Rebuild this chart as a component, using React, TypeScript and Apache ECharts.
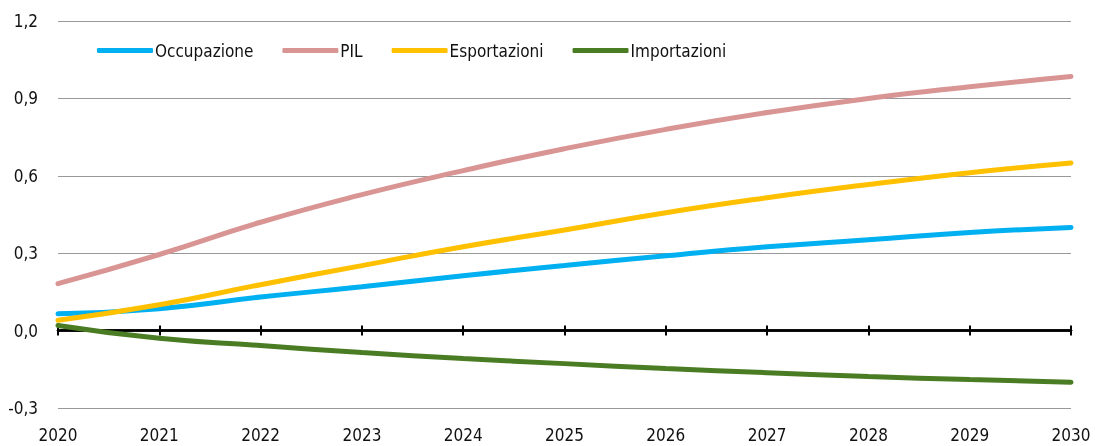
import React, { useEffect, useRef } from "react";
import * as echarts from "echarts";

const years = ["2020", "2021", "2022", "2023", "2024", "2025", "2026", "2027", "2028", "2029", "2030"];
const occupazione = [0.065, 0.085, 0.13, 0.17, 0.213, 0.252, 0.29, 0.325, 0.352, 0.38, 0.4];
const pil = [0.182, 0.295, 0.42, 0.527, 0.62, 0.705, 0.78, 0.845, 0.9, 0.945, 0.985];
const esportazioni = [0.04, 0.1, 0.178, 0.252, 0.325, 0.39, 0.457, 0.515, 0.566, 0.612, 0.65];
const importazioni = [0.02, -0.03, -0.058, -0.085, -0.108, -0.128, -0.147, -0.163, -0.178, -0.19, -0.2];

const FONT = "'Liberation Sans Narrow', 'DejaVu Sans Condensed', sans-serif";

export default function App() {
  const ref = useRef<HTMLDivElement>(null);
  useEffect(() => {
    if (!ref.current) return;
    const chart = echarts.init(ref.current, undefined, { renderer: "svg" });
    const mk = (name: string, data: number[], color: string) => ({
      name,
      type: "line",
      data,
      smooth: true,
      symbol: "none",
      xAxisIndex: 0,
      yAxisIndex: 0,
      lineStyle: { color, width: 5, cap: "round" },
      itemStyle: { color },
    });
    const zeroAxis = (inside: boolean, yIdx: number) => ({
      type: "category",
      data: years,
      boundaryGap: false,
      position: "bottom",
      axisLine: { show: true, onZero: true, onZeroAxisIndex: yIdx, lineStyle: { color: "#000", width: 2.5 } },
      axisTick: { show: true, inside, interval: 0, length: 5, lineStyle: { color: "#000", width: 2 } },
      axisLabel: { show: false },
      splitLine: { show: false },
    });
    chart.setOption({
      animation: false,
      textStyle: { fontFamily: FONT },
      grid: { left: 58, right: 24, top: 21, bottom: 38 },
      legend: {
        left: 92,
        top: 37,
        icon: "roundRect",
        itemWidth: 56,
        itemHeight: 5,
        itemGap: 29,
        textStyle: { fontFamily: FONT, fontSize: 17, color: "#111", padding: [0, 0, 0, -3] },
        data: ["Occupazione", "PIL", "Esportazioni", "Importazioni"],
      },
      xAxis: [
        {
          type: "category",
          data: years,
          boundaryGap: false,
          position: "bottom",
          axisLine: { show: false, onZero: false },
          axisTick: { show: false },
          axisLabel: { fontFamily: FONT, fontSize: 17, color: "#111", margin: 18 },
          splitLine: { show: false },
        },
        zeroAxis(false, 0),
        zeroAxis(true, 1),
      ],
      yAxis: [
        {
          type: "value",
          min: -0.3,
          max: 1.2,
          interval: 0.3,
          axisLine: { show: false },
          axisTick: { show: false },
          splitLine: { lineStyle: { color: "#999", width: 1 } },
          axisLabel: {
            fontFamily: FONT,
            fontSize: 17,
            color: "#111",
            margin: 20,
            formatter: (v: number) => v.toFixed(1).replace(".", ","),
          },
        },
        {
          type: "value",
          min: -0.3,
          max: 1.2,
          interval: 0.3,
          position: "left",
          axisLine: { show: false },
          axisTick: { show: false },
          axisLabel: { show: false },
          splitLine: { show: false },
        },
      ],
      series: [
        mk("Occupazione", occupazione, "#00b0f0"),
        mk("PIL", pil, "#d99594"),
        mk("Esportazioni", esportazioni, "#ffc000"),
        mk("Importazioni", importazioni, "#4a7d23"),
      ],
    });
    return () => chart.dispose();
  }, []);
  return <div ref={ref} style={{ position: "fixed", left: 0, top: 0, width: 1095, height: 446 }} />;
}
